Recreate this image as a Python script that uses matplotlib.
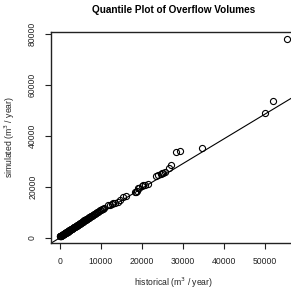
import matplotlib
matplotlib.use("Agg")
import matplotlib.pyplot as plt
from matplotlib import font_manager

# quantiles (sorted) of historical vs simulated overflow volumes, m3/year
historical = [0, 40, 110, 190, 260, 340, 430, 510, 600, 680, 770, 860, 940, 1030,
              1120, 1210, 1300, 1390, 1480, 1580, 1670, 1760, 1860, 1950, 2050,
              2150, 2240, 2340, 2440, 2540, 2640, 2740, 2850, 2950, 3060, 3160,
              3270, 3380, 3490, 3600, 3710, 3820, 3940, 4050, 4170, 4290, 4410,
              4530, 4650, 4780, 4900, 5030, 5160, 5290, 5420, 5560, 5690, 5830,
              5970, 6110, 6250, 6400, 6540, 6690, 6840, 7000, 7150, 7310, 7470,
              7640, 7810, 7980, 8150, 8330, 8510, 8700, 8890, 9080, 9280, 9490,
              9700, 9920, 10150, 10380, 10620,
              11780, 12300, 12610, 13000, 13410, 14100, 14630, 15440, 16020,
              18290, 18460, 18700, 19100, 19350, 19930, 20160, 20730, 21390,
              23410, 23980, 24630, 24800, 25200, 25610, 26670, 27070, 28210,
              29270, 34710, 50000, 52030, 55440]
simulated = [600, 640, 720, 800, 870, 960, 1050, 1140, 1230, 1310, 1410, 1500, 1590,
             1680, 1780, 1870, 1970, 2060, 2150, 2260, 2350, 2450, 2550, 2650,
             2750, 2860, 2950, 3060, 3160, 3270, 3370, 3480, 3590, 3700, 3810,
             3920, 4030, 4150, 4260, 4380, 4500, 4610, 4740, 4850, 4980, 5100,
             5230, 5360, 5480, 5620, 5750, 5880, 6020, 6150, 6290, 6440, 6570,
             6720, 6870, 7010, 7160, 7320, 7470, 7620, 7780, 7950, 8110, 8280,
             8440, 8620, 8800, 8980, 9160, 9350, 9540, 9730, 9930, 10130, 10340,
             10570, 10790, 11020, 11260, 11500, 11750,
             12940, 13100, 13330, 13600, 13840, 14300, 14900, 16200, 16590,
             17920, 18160, 18300, 19490, 19730, 20390, 20660, 20780, 21300,
             24310, 24710, 25100, 25370, 25600, 25900, 27570, 28500, 33600,
             34240, 35170, 49140, 53900, 78040]
fit_intercept = 100
fit_slope = 0.97

xticks = [0, 10000, 20000, 30000, 40000, 50000]
yticks = [0, 20000, 40000, 60000, 80000]

# pick regular Liberation Sans (not the Narrow variant)
fam = 'DejaVu Sans'
for f in font_manager.fontManager.ttflist:
    if f.name == 'Liberation Sans':
        fam = 'Liberation Sans'
        break
plt.rcParams['font.family'] = [fam, 'DejaVu Sans']

fig = plt.figure(figsize=(2.91, 2.89), dpi=100)
ax = fig.add_axes([51 / 291, 46 / 289, 246 / 291, 211 / 289])

ax.plot(historical, simulated, 'o', mfc='none', mec='black', ms=4.4, mew=0.8)
ax.axline((0, fit_intercept), slope=fit_slope, color='black', lw=0.8)

ax.set_xlim(-2195, 57800)
ax.set_ylim(-1960, 80790)
ax.set_xticks(xticks)
ax.set_yticks(yticks)
ax.set_xticklabels([str(v) for v in xticks], fontsize=6.2, color='#222222')
ax.set_yticklabels([str(v) for v in yticks], fontsize=6.2, color='#222222',
                   rotation=90, va='center')
ax.tick_params(length=4, width=0.8, pad=6, color='#222222')
for s in ax.spines.values():
    s.set_linewidth(1.0)
    s.set_color('#222222')

ax.set_title("Quantile Plot of Overflow Volumes", fontsize=7.2, fontweight='bold', pad=14)
ax.set_xlabel("historical (m$^3$ / year)", fontsize=6.2, labelpad=7, color='#222222')
ax.set_ylabel("simulated (m$^3$ / year)", fontsize=6.2, labelpad=8, color='#222222')

fig.savefig("out.png", dpi=100)
